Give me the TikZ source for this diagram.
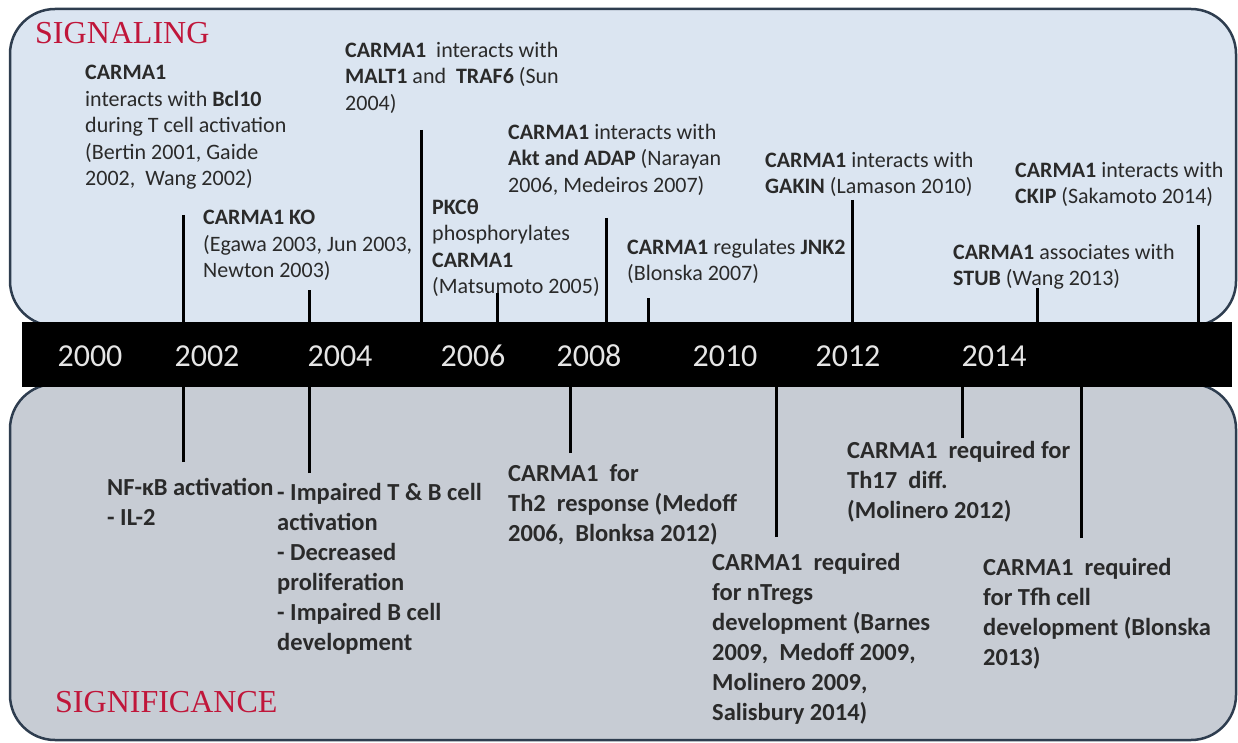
\documentclass[tikz,border=0pt]{standalone}
\usepackage{fontspec}
\setmainfont{Carlito}
\newfontfamily\titlefont{Liberation Serif}
\usepackage{xcolor}
\usepackage{tikz}
\definecolor{sigblue}{HTML}{DBE5F1}
\definecolor{siggray}{HTML}{C7CCD4}
\definecolor{sigframe}{HTML}{2E3D4F}
\definecolor{titlered}{HTML}{C0163A}
\definecolor{inkgray}{HTML}{2A2A2A}
\tikzset{
  panel/.style={
    draw=sigframe,
    line width=2.5pt,
    rounded corners=45pt
  },
  timebar/.style={
    fill=black,
    inner sep=0pt,
    minimum width=1210pt,
    minimum height=65pt
  },
  yearlabel/.style={
    text=white!90!black,
    font=\fontsize{32}{38}\selectfont
  },
  paneltitle/.style={
    anchor=west,
    inner sep=0pt,
    text=titlered,
    font=\titlefont\fontsize{32}{38}\selectfont
  },
  eventtext/.style={
    anchor=north west,
    inner sep=0pt,
    align=left,
    text=inkgray,
    font=\fontsize{22}{26.5}\selectfont
  },
  effecttext/.style={
    eventtext,
    font=\fontsize{24.5}{30}\selectfont\bfseries
  },
  tickline/.style={
    line width=3pt,
    draw=black
  }
}

\begin{document}
\begin{tikzpicture}[x=1pt, y=-1pt]
    \useasboundingbox (0,0) rectangle (1238,743);

    \draw[panel, fill=sigblue] (10,9) rectangle (1236,326);
    \draw[panel, fill=siggray] (10,384) rectangle (1236,740);
    \node[timebar] (bar) at (627,354.5) {};

    \foreach \yr/\xpos in {2000/90, 2002/207, 2004/340, 2006/473,
                           2008/589, 2010/725, 2012/848, 2014/994}
        \node[yearlabel] (y\yr) at (\xpos,356) {\yr};

    \node[paneltitle] (signaling) at (35,33) {SIGNALING};
    \node[paneltitle] (significance) at (55,702) {SIGNIFICANCE};

    % signaling events
    \node[eventtext] (bcl) at (85,65) {
        \textbf{CARMA1}\\
        interacts with \textbf{Bcl10}\\
        during T cell activation\\
        (Bertin 2001, Gaide\\
        2002,\ \ Wang 2002)
    };
    \node[eventtext] (ko) at (203,210) {
        \textbf{CARMA1 KO}\\
        (Egawa 2003, Jun 2003,\\
        Newton 2003)
    };
    \node[eventtext] (malt) at (345,42) {
        \textbf{CARMA1}\ \ interacts with\\
        \textbf{MALT1} and\ \ \textbf{TRAF6} (Sun\\
        2004)
    };
    \node[eventtext] (pkc) at (432,199) {
        \textbf{PKCθ}\\
        phosphorylates\\
        \textbf{CARMA1}\\
        (Matsumoto 2005)
    };
    \node[eventtext] (akt) at (508,124) {
        \textbf{CARMA1} interacts with\\
        \textbf{Akt and ADAP} (Narayan\\
        2006, Medeiros 2007)
    };
    \node[eventtext] (jnk) at (627,239) {
        \textbf{CARMA1} regulates \textbf{JNK2}\\
        (Blonska 2007)
    };
    \node[eventtext] (gakin) at (765,152) {
        \textbf{CARMA1} interacts with\\
        \textbf{GAKIN} (Lamason 2010)
    };
    \node[eventtext] (stub) at (953,244) {
        \textbf{CARMA1} associates with\\
        \textbf{STUB}\ (Wang 2013)
    };
    \node[eventtext] (ckip) at (1015,162) {
        \textbf{CARMA1} interacts with\\
        \textbf{CKIP} (Sakamoto 2014)
    };

    % significance
    \node[effecttext] (nfkb) at (107,478) {
        NF-κB activation\\
        - IL-2
    };
    \node[effecttext] (impaired) at (277,483) {
        - Impaired T \& B cell\\
        activation\\
        - Decreased\\
        proliferation\\
        - Impaired B cell\\
        development
    };
    \node[effecttext] (thtwo) at (508,464) {
        CARMA1\ \ for\\
        Th2\ \ response (Medoff\\
        2006,\ \ Blonksa 2012)
    };
    \node[effecttext] (ntreg) at (712,553) {
        CARMA1\ \ required\\
        for nTregs\\
        development (Barnes\\
        2009,\ \ Medoff 2009,\\
        Molinero 2009,\\
        Salisbury 2014)
    };
    \node[effecttext] (thseventeen) at (847,441) {
        CARMA1\ \ required for\\
        Th17\ \ diff.\\
        (Molinero 2012)
    };
    \node[effecttext] (tfh) at (983,558) {
        CARMA1\ \ required\\
        for Tfh cell\\
        development (Blonska\\
        2013)
    };

    % tick ends
    \coordinate (bcltop) at (183,215);
    \coordinate (kotop) at (309,290);
    \coordinate (malttop) at (421,130);
    \coordinate (pkctop) at (497,293);
    \coordinate (akttop) at (606,218);
    \coordinate (jnktop) at (648,298);
    \coordinate (gakintop) at (852,200);
    \coordinate (stubtop) at (1037,288);
    \coordinate (ckiptop) at (1198,225);
    \coordinate (nfkbend) at (183,462);
    \coordinate (impairedend) at (309,473);
    \coordinate (thtwoend) at (570,453);
    \coordinate (ntregend) at (776,537);
    \coordinate (thseventeenend) at (962,438);
    \coordinate (tfhend) at (1081,538);

    \foreach \ev in {bcltop, kotop, malttop, pkctop, akttop, jnktop, gakintop, stubtop, ckiptop}
        \draw[tickline] (\ev) -- (\ev |- bar.north);
    \foreach \ev in {nfkbend, impairedend, thtwoend, ntregend, thseventeenend, tfhend}
        \draw[tickline] (\ev) -- (\ev |- bar.south);
\end{tikzpicture}
\end{document}
